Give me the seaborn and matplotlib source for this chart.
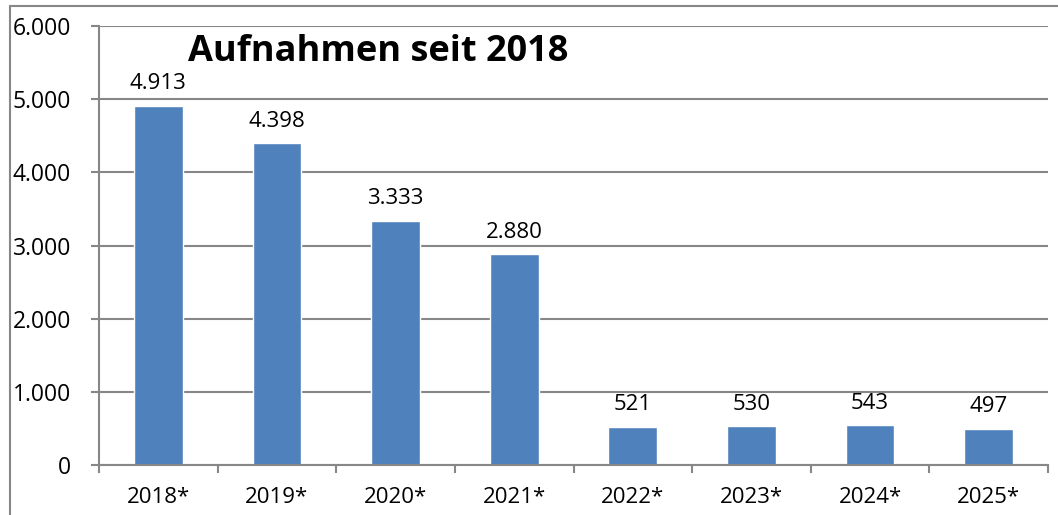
import pandas as pd
import numpy as np
import seaborn as sns
import matplotlib.pyplot as plt
from matplotlib.ticker import FuncFormatter

# values
jahre = ['2018*', '2019*', '2020*', '2021*', '2022*', '2023*', '2024*', '2025*']
aufnahmen = [4913, 4398, 3333, 2880, 521, 530, 543, 497]
df = pd.DataFrame({'Jahr': jahre, 'Aufnahmen': aufnahmen})

sns.set_style('white')
plt.rcParams['font.family'] = ['Open Sans', 'DejaVu Sans']
plt.rcParams['text.color'] = 'black'
plt.rcParams['xtick.labelcolor'] = 'black'
plt.rcParams['ytick.labelcolor'] = 'black'

fig = plt.figure(figsize=(10.58, 5.15), dpi=100)
ax = fig.add_axes([99 / 1058, 1 - 465 / 515, 949 / 1058, 439 / 515])

sns.barplot(data=df, x='Jahr', y='Aufnahmen', color='#4F81BD', saturation=1,
            width=0.41, ax=ax)

def de_fmt(v, pos):
    return f'{int(v):,}'.replace(',', '.')

ax.set_ylim(0, 6000)
ax.set_xlim(-0.5, len(jahre) - 0.5)
ax.set_yticks(np.arange(0, 6001, 1000))
ax.yaxis.set_major_formatter(FuncFormatter(de_fmt))
ax.set_xlabel('')
ax.set_ylabel('')
ax.yaxis.grid(True, color='#878787', linewidth=1.5)
ax.set_axisbelow(True)

for s in ['top', 'right']:
    ax.spines[s].set_visible(False)
for s in ['left', 'bottom']:
    ax.spines[s].set_color('#878787')
    ax.spines[s].set_linewidth(1.5)

# category boundary ticks on x axis
ax.set_xticks(np.arange(len(jahre)))
ax.set_xticks(np.arange(-0.5, len(jahre)), minor=True)
ax.tick_params(axis='x', which='major', length=0, pad=16, labelsize=16)
ax.tick_params(axis='x', which='minor', length=6, width=1.5, color='#878787', direction='out', bottom=True)
ax.tick_params(axis='y', length=6, width=1.5, color='#878787', direction='out', left=True, labelsize=16.5, pad=14)

for i, v in enumerate(aufnahmen):
    ax.text(i, v + 160, de_fmt(v, None), ha='center', va='bottom', fontsize=16)

ax.text(378 / 1058, 1 - 52 / 515, 'Aufnahmen seit 2018', transform=fig.transFigure,
        ha='center', va='center', fontsize=26, fontweight='bold')

# outer chart border (partly visible)
fig.add_artist(plt.Line2D([10 / 1058, 10 / 1058], [0, 1 - 6 / 515], color='#878787', linewidth=1.5))
fig.add_artist(plt.Line2D([10 / 1058, 1], [1 - 6 / 515, 1 - 6 / 515], color='#878787', linewidth=1.5))

fig.savefig('out.png', dpi=100)
